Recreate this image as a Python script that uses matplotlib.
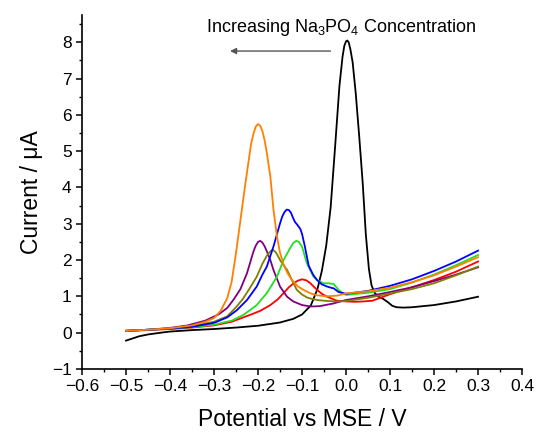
import matplotlib
matplotlib.use("Agg")
import matplotlib.pyplot as plt
from matplotlib.ticker import MultipleLocator

plt.rcParams["font.family"] = ["Liberation Sans", "DejaVu Sans"]
plt.rcParams["mathtext.fontset"] = "custom"
plt.rcParams["mathtext.rm"] = "Liberation Sans"
plt.rcParams["mathtext.default"] = "regular"

# voltammograms (potential V, current uA)
black_x = [-0.5, -0.47, -0.45, -0.42, -0.4, -0.35, -0.3, -0.25, -0.2, -0.15, -0.12, -0.1, -0.08,
           -0.065, -0.055, -0.045, -0.035, -0.025, -0.015, -0.008, -0.004, 0.0, 0.003, 0.006, 0.01,
           0.015, 0.022, 0.03, 0.038, 0.045, 0.052, 0.058, 0.065, 0.072, 0.082, 0.095, 0.105, 0.115,
           0.13, 0.15, 0.2, 0.25, 0.3]
black_y = [-0.22, -0.1, -0.05, 0.0, 0.03, 0.07, 0.10, 0.14, 0.19, 0.28, 0.38, 0.5, 0.75,
           1.2, 1.7, 2.4, 3.45, 5.1, 6.8, 7.6, 7.9, 8.03, 8.05, 8.0, 7.8,
           7.45, 6.6, 5.4, 4.1, 2.7, 1.75, 1.3, 1.1, 1.0, 0.95, 0.84, 0.74, 0.70,
           0.69, 0.70, 0.76, 0.86, 0.99]

orange_x = [-0.5, -0.45, -0.4, -0.35, -0.32, -0.3, -0.285, -0.27, -0.26, -0.25, -0.24, -0.23, -0.22,
            -0.215, -0.21, -0.205, -0.2, -0.195, -0.19, -0.185, -0.18, -0.172, -0.165, -0.157,
            -0.15, -0.142, -0.133, -0.123, -0.11, -0.097, -0.08, -0.066, -0.045, -0.02, 0.0, 0.05,
            0.1, 0.15, 0.2, 0.25, 0.3]
orange_y = [0.05, 0.08, 0.12, 0.2, 0.3, 0.4, 0.6, 0.95, 1.4, 2.2, 3.1, 4.0, 4.85,
            5.25, 5.5, 5.68, 5.75, 5.7, 5.55, 5.3, 4.95, 4.3, 3.4, 2.65,
            2.2, 1.88, 1.64, 1.45, 1.28, 1.18, 1.08, 1.03, 1.0, 1.02, 1.08, 1.14,
            1.24, 1.39, 1.58, 1.82, 2.08]

purple_x = [-0.5, -0.45, -0.4, -0.36, -0.32, -0.29, -0.27, -0.255, -0.24, -0.225, -0.215, -0.21,
            -0.205, -0.2, -0.195, -0.19, -0.185, -0.18, -0.172, -0.165, -0.15, -0.134, -0.12, -0.1,
            -0.08, -0.06, -0.03, 0.0, 0.05, 0.1, 0.15, 0.2, 0.25, 0.3]
purple_y = [0.05, 0.08, 0.13, 0.2, 0.33, 0.5, 0.68, 0.92, 1.2, 1.64, 2.05, 2.25,
            2.4, 2.5, 2.53, 2.48, 2.38, 2.24, 2.0, 1.73, 1.27, 0.99, 0.86, 0.76,
            0.72, 0.73, 0.8, 0.9, 1.0, 1.12, 1.25, 1.42, 1.6, 1.8]

olive_x = [-0.5, -0.45, -0.4, -0.35, -0.3, -0.27, -0.25, -0.235, -0.22, -0.203, -0.19, -0.18, -0.175,
           -0.17, -0.166, -0.16, -0.155, -0.15, -0.142, -0.134, -0.123, -0.112, -0.1, -0.089,
           -0.075, -0.059, -0.04, -0.02, 0.0, 0.05, 0.1, 0.15, 0.2, 0.25, 0.3]
olive_y = [0.05, 0.08, 0.12, 0.18, 0.3, 0.45, 0.7, 0.92, 1.2, 1.54, 1.9, 2.12, 2.2,
           2.26, 2.28, 2.22, 2.12, 2.0, 1.86, 1.73, 1.45, 1.18, 1.05, 0.97,
           0.92, 0.89, 0.87, 0.86, 0.87, 0.96, 1.08, 1.2, 1.36, 1.58, 1.82]

blue_x = [-0.5, -0.45, -0.4, -0.35, -0.3, -0.27, -0.248, -0.225, -0.203, -0.19, -0.18, -0.165, -0.15,
          -0.145, -0.14, -0.135, -0.13, -0.125, -0.12, -0.116, -0.11, -0.104, -0.1, -0.094, -0.085,
          -0.075, -0.066, -0.055, -0.043, -0.035, -0.028, -0.017, 0.0, 0.05, 0.1, 0.15, 0.2, 0.25, 0.3]
blue_y = [0.05, 0.08, 0.11, 0.16, 0.27, 0.42, 0.62, 0.9, 1.27, 1.6, 1.82, 2.37, 3.01,
          3.2, 3.32, 3.39, 3.38, 3.3, 3.15, 3.05, 2.96, 2.86, 2.72, 2.4, 1.85,
          1.6, 1.45, 1.33, 1.27, 1.24, 1.22, 1.12, 1.07, 1.15, 1.29, 1.47, 1.7, 1.96, 2.26]

green_x = [-0.5, -0.45, -0.4, -0.35, -0.3, -0.26, -0.233, -0.203, -0.18, -0.157, -0.142, -0.127,
           -0.12, -0.113, -0.107, -0.1, -0.089, -0.074, -0.062, -0.051, -0.04, -0.028, -0.017,
           -0.006, 0.0, 0.05, 0.1, 0.15, 0.2, 0.25, 0.3]
green_y = [0.05, 0.08, 0.11, 0.15, 0.22, 0.33, 0.49, 0.76, 1.09, 1.54, 2.0, 2.33,
           2.47, 2.53, 2.5, 2.37, 1.91, 1.54, 1.42, 1.36, 1.36, 1.34, 1.18,
           1.07, 1.04, 1.1, 1.2, 1.38, 1.6, 1.86, 2.14]

red_x = [-0.5, -0.45, -0.4, -0.35, -0.3, -0.26, -0.218, -0.195, -0.172, -0.155, -0.142, -0.13, -0.119,
         -0.11, -0.1, -0.09, -0.081, -0.066, -0.055, -0.043, -0.021, 0.0, 0.02, 0.04, 0.06, 0.1, 0.15,
         0.2, 0.25, 0.3]
red_y = [0.05, 0.07, 0.1, 0.14, 0.2, 0.3, 0.49, 0.6, 0.76, 0.92, 1.09, 1.25, 1.36,
         1.43, 1.47, 1.44, 1.36, 1.18, 1.07, 0.99, 0.88, 0.86, 0.85, 0.86, 0.88, 1.06, 1.25,
         1.45, 1.68, 1.96]

curves = [
    (black_x, black_y, "black"),
    (red_x, red_y, "#ff0000"),
    (purple_x, purple_y, "#800080"),
    (olive_x, olive_y, "#808000"),
    (green_x, green_y, "#22e022"),
    (blue_x, blue_y, "#0000ff"),
    (orange_x, orange_y, "#ff8000"),
]

fig = plt.figure(figsize=(5.36, 4.32), dpi=100)
ax = fig.add_axes([0.153, 0.146, 0.821, 0.819])

for xs, ys, c in curves:
    ax.plot(xs, ys, color=c, lw=1.3)

ax.set_xlim(-0.6, 0.4)
ax.set_ylim(-1, 8.75)
ax.xaxis.set_major_locator(MultipleLocator(0.1))
ax.xaxis.set_minor_locator(MultipleLocator(0.05))
ax.yaxis.set_major_locator(MultipleLocator(1))
ax.yaxis.set_minor_locator(MultipleLocator(0.5))
ax.xaxis.set_major_formatter(plt.FuncFormatter(lambda v, p: f"{v:.1f}".replace("-", "\u2212")))

for s in ["top", "right"]:
    ax.spines[s].set_visible(False)
for s in ["left", "bottom"]:
    ax.spines[s].set_linewidth(1.2)
ax.tick_params(which="major", direction="out", length=4.5, width=1.1, labelsize=12.5, pad=3)
ax.tick_params(which="minor", direction="out", length=2.5, width=1.0)

ax.set_xlabel("Potential vs MSE / V", fontsize=16.5, labelpad=10)
ax.set_ylabel("Current / \u03bcA", fontsize=16.5, labelpad=6)

ax.text(-0.01, 8.28, "Increasing Na$_3$PO$_4$ Concentration", ha="center", va="baseline", fontsize=13)
ax.annotate("", xy=(-0.27, 7.76), xytext=(-0.029, 7.76),
            arrowprops=dict(arrowstyle="-|>", color="#555555", lw=1.0, mutation_scale=9))

fig.savefig("out.png", dpi=100)
